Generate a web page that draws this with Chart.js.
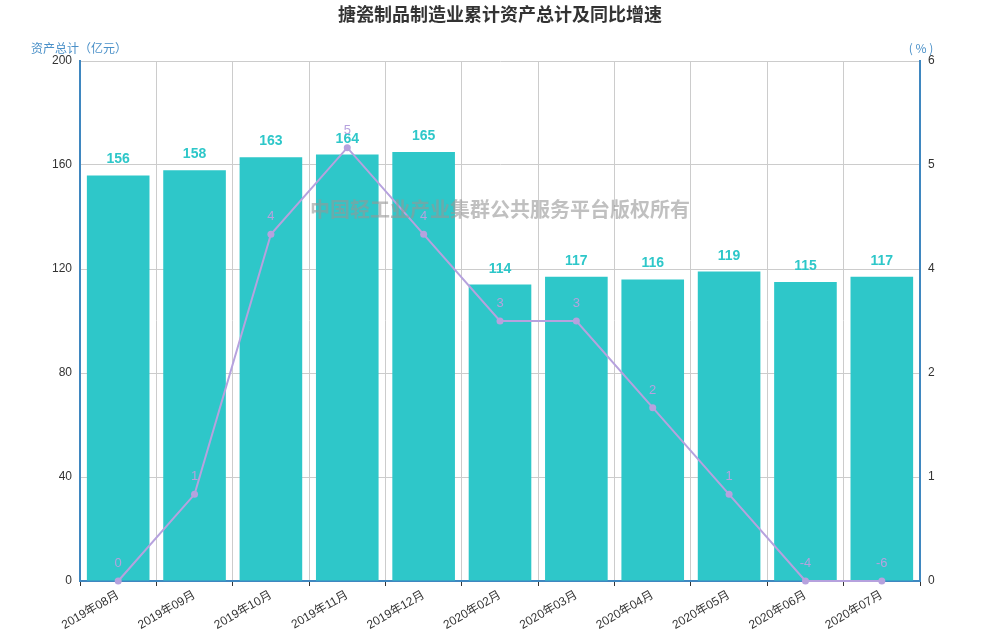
<!DOCTYPE html>
<html>
<head>
<meta charset="utf-8">
<script src="https://cdn.jsdelivr.net/npm/chart.js"></script>
<style>
  html, body { margin: 0; padding: 0; background: #fff; }
</style>
</head>
<body>
<canvas id="assetChart" width="1000" height="640"></canvas>
<script>
    const months = ['2019年08月', '2019年09月', '2019年10月', '2019年11月', '2019年12月', '2020年02月',
        '2020年03月', '2020年04月', '2020年05月', '2020年06月', '2020年07月'];
    const totalAssets = [156, 158, 163, 164, 165, 114, 117, 116, 119, 115, 117];
    const growthRate = [0, 1, 4, 5, 4, 3, 3, 2, 1, -4, -6];
    const rightTicks = [0, 1.2, 2.4, 3.6, 4.8, 6];

    const barColor = '#2ec7c9';
    const lineColor = '#b6a2de';
    const axisBlue = '#3f87c0';

    Chart.defaults.font.family = '"Liberation Sans", "Noto Sans CJK SC", sans-serif';
    Chart.defaults.color = '#333';

    // negative growth sits on the axis floor (right axis starts at 0)
    let growthPlotted = growthRate.map(v => Math.max(v, 0));

    const decorations = {
        id: 'decorations',
        afterDatasetsDraw(chart) {
            let ctx = chart.ctx;
            ctx.save();
            ctx.textAlign = 'center';
            ctx.textBaseline = 'alphabetic';

            ctx.font = 'bold 14px "Liberation Sans", sans-serif';
            ctx.fillStyle = barColor;
            chart.getDatasetMeta(1).data.forEach((bar, i) => {
                ctx.fillText(totalAssets[i], bar.x, bar.y - 12);
            });

            ctx.font = '13px "Liberation Sans", sans-serif';
            ctx.fillStyle = lineColor;
            chart.getDatasetMeta(0).data.forEach((pt, i) => {
                ctx.fillText(growthRate[i], pt.x, pt.y - 14);
            });

            // watermark
            ctx.font = 'bold 20px "Noto Sans CJK SC", sans-serif';
            ctx.fillStyle = 'rgba(150,150,150,0.6)';
            ctx.textBaseline = 'middle';
            ctx.fillText('中国轻工业产业集群公共服务平台版权所有', 500, 209);

            // title
            ctx.font = 'bold 18px "Noto Sans CJK SC", sans-serif';
            ctx.fillStyle = '#333';
            ctx.fillText('搪瓷制品制造业累计资产总计及同比增速', 500, 14);

            // axis names
            ctx.font = '12px "Noto Sans CJK SC", sans-serif';
            ctx.fillStyle = '#4a90c8';
            ctx.fillText('资产总计（亿元）', 79, 48);
            ctx.fillText('( % )', 921, 48);
            ctx.restore();
        }
    };

    let ctx = document.getElementById('assetChart').getContext('2d');
    let assetChart = new Chart(ctx, {
        data: {
            labels: months,
            datasets: [
                {
                    type: 'line', label: '同比增速', data: growthPlotted, yAxisID: 'y1', order: 0,
                    borderColor: lineColor, backgroundColor: lineColor, borderWidth: 2,
                    pointRadius: 3.5, pointBackgroundColor: lineColor, pointBorderWidth: 0,
                    tension: 0, clip: false
                },
                {
                    type: 'bar', label: '资产总计', data: totalAssets, yAxisID: 'y', order: 1,
                    backgroundColor: barColor, categoryPercentage: 1, barPercentage: 0.82
                }
            ]
        },
        options: {
            responsive: false,
            animation: false,
            devicePixelRatio: 1,
            layout: { padding: { top: 61, left: 0, right: 0, bottom: 0 } },
            plugins: { legend: { display: false }, tooltip: { enabled: false } },
            scales: {
                x: {
                    offset: true,
                    grid: { display: true, offset: true, color: '#ccc', tickColor: '#333', tickLength: 5, drawOnChartArea: true },
                    border: { display: true, color: axisBlue, width: 2 },
                    ticks: { minRotation: 30, maxRotation: 30, font: { size: 12 }, color: '#333', padding: 2 },
                    afterFit(scale) { scale.height = 59; }
                },
                y: {
                    position: 'left', min: 0, max: 200,
                    ticks: { stepSize: 40, font: { size: 12 }, color: '#333', padding: 8 },
                    grid: { color: '#ccc', drawTicks: false },
                    border: { color: axisBlue, width: 2 },
                    afterFit(scale) { scale.width = 80; }
                },
                y1: {
                    position: 'right', min: 0, max: 6,
                    afterBuildTicks(scale) { scale.ticks = rightTicks.map(v => ({ value: v })); },
                    ticks: { font: { size: 12 }, color: '#333', padding: 8, callback: v => Math.round(v) },
                    grid: { display: false, drawTicks: false },
                    border: { color: axisBlue, width: 2 },
                    afterFit(scale) { scale.width = 80; }
                }
            }
        },
        plugins: [decorations]
    });
</script>
</body>
</html>
